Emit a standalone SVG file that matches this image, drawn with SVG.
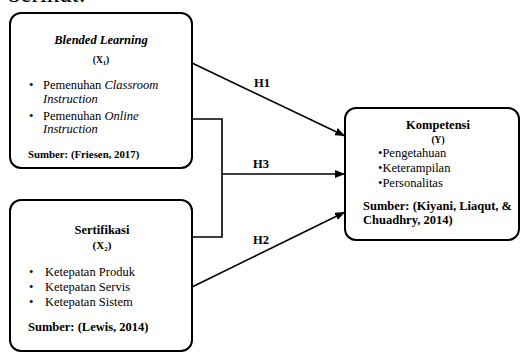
<svg xmlns="http://www.w3.org/2000/svg" width="521" height="354" viewBox="0 0 521 354">
<style>
text{font-family:"Liberation Serif","Times New Roman",serif;fill:#000}
.box{fill:#fff;stroke:#000;stroke-width:2}
.ln{fill:none;stroke:#000;stroke-width:1.6}
.b{font-weight:bold}
.i{font-style:italic}
.t{font-size:12.5px}
.s{font-size:9px}
.c{text-anchor:middle}
</style>
<defs>
<marker id="ah" viewBox="0 0 10 8" refX="10" refY="4" markerWidth="10" markerHeight="8" markerUnits="userSpaceOnUse" orient="auto">
<path d="M0,0 L10,4 L0,8 z" fill="#000"/>
</marker>
</defs>
<rect width="521" height="354" fill="#fff"/>
<text x="8" y="1.5" style="font-size:25px">berikut:</text>
<g id="connectors">
<line class="ln" x1="192" y1="63" x2="345" y2="136" marker-end="url(#ah)"/>
<polyline class="ln" points="192,119 222,119 222,237 192,237"/>
<line class="ln" x1="222" y1="174" x2="345" y2="174" marker-end="url(#ah)"/>
<line class="ln" x1="192" y1="287" x2="345" y2="212" marker-end="url(#ah)"/>
<text class="t b c" x="262" y="87">H1</text>
<text class="t b c" x="261" y="168">H3</text>
<text class="t b c" x="261" y="244">H2</text>
</g>
<g id="x1">
<rect class="box" x="10" y="13" width="182" height="155" rx="11"/>
<text class="t b i c" x="101" y="44">Blended Learning</text>
<text class="b c" x="101" y="63" style="font-size:9.5px">(X<tspan style="font-size:6.5px" dy="2">1</tspan><tspan dy="-2">)</tspan></text>
<text class="t" x="29" y="89">•</text>
<text class="t" x="43" y="89">Pemenuhan <tspan class="i">Classroom</tspan></text>
<text class="t i" x="43" y="103">Instruction</text>
<text class="t" x="29" y="120">•</text>
<text class="t" x="43" y="120">Pemenuhan <tspan class="i">Online</tspan></text>
<text class="t i" x="43" y="133">Instruction</text>
<text class="b" x="28" y="158" style="font-size:10.8px">Sumber: (Friesen, 2017)</text>
</g>
<g id="x2">
<rect class="box" x="10" y="200" width="182" height="151" rx="11"/>
<text class="t b c" x="102" y="234">Sertifikasi</text>
<text class="b c" x="102" y="249" style="font-size:11px">(X<tspan style="font-size:7px" dy="2">2</tspan><tspan dy="-2">)</tspan></text>
<text class="t" x="29" y="276">•</text>
<text class="t" x="45" y="276">Ketepatan Produk</text>
<text class="t" x="29" y="291">•</text>
<text class="t" x="45" y="291">Ketepatan Servis</text>
<text class="t" x="29" y="306">•</text>
<text class="t" x="45" y="306">Ketepatan Sistem</text>
<text class="t b" x="28" y="331">Sumber: (Lewis, 2014)</text>
</g>
<g id="y">
<rect class="box" x="345" y="108" width="174" height="132" rx="11"/>
<text class="t b c" x="438" y="129">Kompetensi</text>
<text class="b c" x="438" y="143" style="font-size:9.5px">(Y)</text>
<text class="t" x="378" y="157">•Pengetahuan</text>
<text class="t" x="378" y="172">•Keterampilan</text>
<text class="t" x="378" y="187">•Personalitas</text>
<text class="t b" x="363" y="210">Sumber: (Kiyani, Liaqut, &amp;</text>
<text class="t b" x="363" y="224">Chuadhry, 2014)</text>
</g>
</svg>
